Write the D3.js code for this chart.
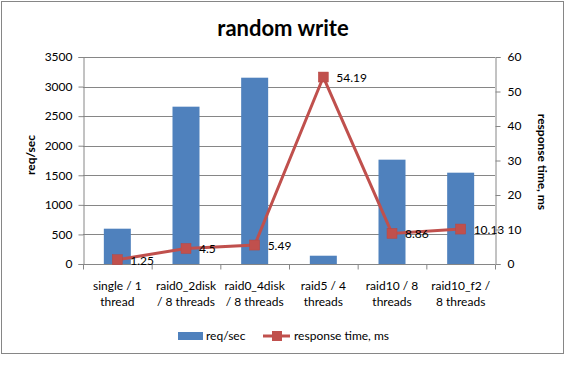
<!DOCTYPE html>
<html><head><meta charset="utf-8">
<script src="https://cdn.jsdelivr.net/npm/d3@7"></script>
<style>body{margin:0;background:#fff}svg{display:block}text{font-family:Lato,"Open Sans",sans-serif}</style>
</head><body><svg id="c" width="566" height="368"></svg>
<script>
const categories = [["single / 1","thread"],["raid0_2disk","/ 8 threads"],["raid0_4disk","/ 8 threads"],["raid5 / 4","threads"],["raid10 / 8","threads"],["raid10_f2 /","8 threads"]];
const reqPerSec = [597, 2660, 3150, 140, 1764, 1544];
const responseMs = [1.25, 4.5, 5.49, 54.19, 8.86, 10.13];
const leftTicks = [0,500,1000,1500,2000,2500,3000,3500];
const rightTicks = [0,10,20,30,40,50,60];

const svg = d3.select("#c");
const L = 83, R = 495, T = 57, B = 264;
const gray = "#868686";

svg.append("rect").attr("x",1.5).attr("y",1.5).attr("width",562).attr("height",352)
  .attr("fill","#fff").attr("stroke",gray).attr("stroke-width",1);

svg.append("text").attr("x",283).attr("y",36).attr("text-anchor","middle")
  .attr("font-size",22).attr("font-weight","bold").text("random write");

const xb = d3.scaleBand().domain(d3.range(categories.length)).range([L,R]);
const yL = d3.scaleLinear().domain([0,3500]).range([B,T]);
const yR = d3.scaleLinear().domain([0,60]).range([B,T]);

// gridlines
svg.append("g").selectAll("line").data(leftTicks.slice(1)).join("line")
  .attr("x1",L).attr("x2",R).attr("y1",d=>Math.round(yL(d))+0.5).attr("y2",d=>Math.round(yL(d))+0.5)
  .attr("stroke",gray);

// bars
svg.append("g").selectAll("rect").data(reqPerSec).join("rect")
  .attr("x",(d,i)=>xb(i)+xb.bandwidth()/2-13.5).attr("width",27)
  .attr("y",d=>yL(d)).attr("height",d=>B-yL(d)).attr("fill","#4F81BD");

// axes
const gl = svg.append("g").attr("transform",`translate(${L+0.5},0)`)
  .call(d3.axisLeft(yL).tickValues(leftTicks).tickSize(5).tickPadding(6).tickFormat(d3.format("d")));
const gr = svg.append("g").attr("transform",`translate(${R+0.5},0)`)
  .call(d3.axisRight(yR).tickValues(rightTicks).tickSize(5).tickPadding(7).tickFormat(d3.format("d")));
const gb = svg.append("g").attr("transform",`translate(0,${B+0.5})`)
  .call(d3.axisBottom(d3.scaleLinear().domain([0,6]).range([L,R])).tickValues(d3.range(7)).tickSize(5).tickFormat(""));
[gl,gr,gb].forEach(g=>{
  g.select(".domain").attr("stroke",gray);
  g.selectAll(".tick line").attr("stroke",gray);
  g.selectAll("text").attr("font-size",12).attr("fill","#000").attr("font-family","Lato,sans-serif");
});
gb.select(".domain").attr("d",`M${L},0H${R}`);

// category labels
const cl = svg.append("g").selectAll("text").data(categories).join("text")
  .attr("text-anchor","middle").attr("font-size",12).attr("fill","#000");
cl.each(function(d,i){
  const t = d3.select(this);
  d.forEach((s,k)=>t.append("tspan").attr("x",xb(i)+xb.bandwidth()/2).attr("y",290+k*16).text(s));
});

// axis titles
svg.append("text").attr("transform","translate(35,155) rotate(-90)").attr("text-anchor","middle")
  .attr("font-size",12).attr("font-weight","bold").text("req/sec");
svg.append("text").attr("transform","translate(538,162) rotate(90)").attr("text-anchor","middle")
  .attr("font-size",12).attr("font-weight","bold").text("response time, ms");

// line
const cx = i=>xb(i)+xb.bandwidth()/2;
svg.append("path").datum(responseMs)
  .attr("d",d3.line().x((d,i)=>cx(i)).y(d=>yR(d)))
  .attr("fill","none").attr("stroke","#C0504D").attr("stroke-width",3);
svg.append("g").selectAll("rect").data(responseMs).join("rect")
  .attr("x",(d,i)=>cx(i)-5).attr("y",d=>yR(d)-5).attr("width",10).attr("height",10)
  .attr("fill","#C0504D").attr("stroke","#B84743").attr("stroke-width",0.5);
svg.append("g").selectAll("text").data(responseMs).join("text")
  .attr("x",(d,i)=>cx(i)+13).attr("y",d=>yR(d)+5).attr("font-size",12).attr("fill","#000")
  .text(d=>d);

// legend
svg.append("rect").attr("x",178).attr("y",332).attr("width",25).attr("height",8).attr("fill","#4F81BD");
svg.append("text").attr("x",206).attr("y",340).attr("font-size",12).text("req/sec");
svg.append("line").attr("x1",263).attr("x2",290).attr("y1",336).attr("y2",336).attr("stroke","#C0504D").attr("stroke-width",3);
svg.append("rect").attr("x",272).attr("y",331).attr("width",10).attr("height",10).attr("fill","#C0504D");
svg.append("text").attr("x",294).attr("y",340).attr("font-size",12).text("response time, ms");
</script></body></html>
